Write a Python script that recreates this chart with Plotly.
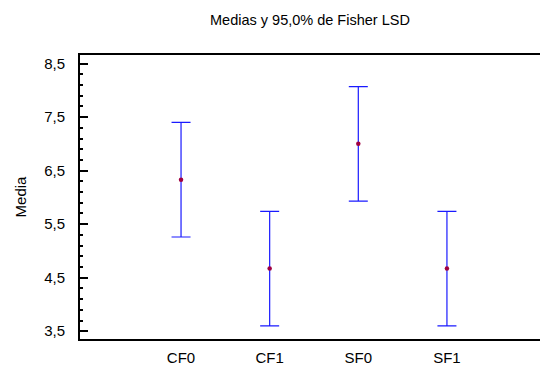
import plotly.graph_objects as go

categories = ["CF0", "CF1", "SF0", "SF1"]
means = [6.33, 4.67, 7.0, 4.67]
lsd_half = [1.07, 1.07, 1.07, 1.07]
y_ticks = [3.5, 4.5, 5.5, 6.5, 7.5, 8.5]
y_tick_labels = ["3,5", "4,5", "5,5", "6,5", "7,5", "8,5"]

fig = go.Figure()
fig.add_trace(go.Scatter(
    x=categories, y=means, mode="markers",
    marker=dict(color="#a00040", size=4.5, line=dict(width=0)),
    error_y=dict(type="data", array=lsd_half, visible=True,
                 color="#1a1aff", thickness=1.2, width=9.5),
    showlegend=False,
))

font = dict(family="Liberation Sans, Arial, sans-serif", size=15, color="black")
fig.update_layout(
    width=540, height=365,
    margin=dict(l=80, r=0, t=55, b=25.5),
    paper_bgcolor="white", plot_bgcolor="white",
    font=font,
    title=dict(text="Medias y 95,0% de Fisher LSD", x=0.574, xanchor="center",
               y=0.945, yanchor="middle", font=dict(size=14.5)),
)
fig.update_xaxes(
    type="category", range=[-1.14, 4.05],
    showline=True, linecolor="black", linewidth=2, mirror=True,
    ticks="", showgrid=False, zeroline=False, ticklabelstandoff=4,
)
fig.update_yaxes(
    range=[3.355, 8.66], tickvals=y_ticks, ticktext=y_tick_labels,
    showline=True, linecolor="black", linewidth=2,
    ticks="inside", ticklen=8, tickwidth=1.5, tickcolor="black",
    minor=dict(dtick=0.2, tick0=3.5, ticks="inside", ticklen=3, tickwidth=1.5, tickcolor="black"),
    showgrid=False, zeroline=False, ticklabelstandoff=10,
    title=dict(text="Media", standoff=14, font=dict(size=15)),
)
fig.write_html(
    "out.html",
    config={"displayModeBar": False},
    post_script="document.body.style.margin='0';document.body.style.overflow='hidden';",
)
